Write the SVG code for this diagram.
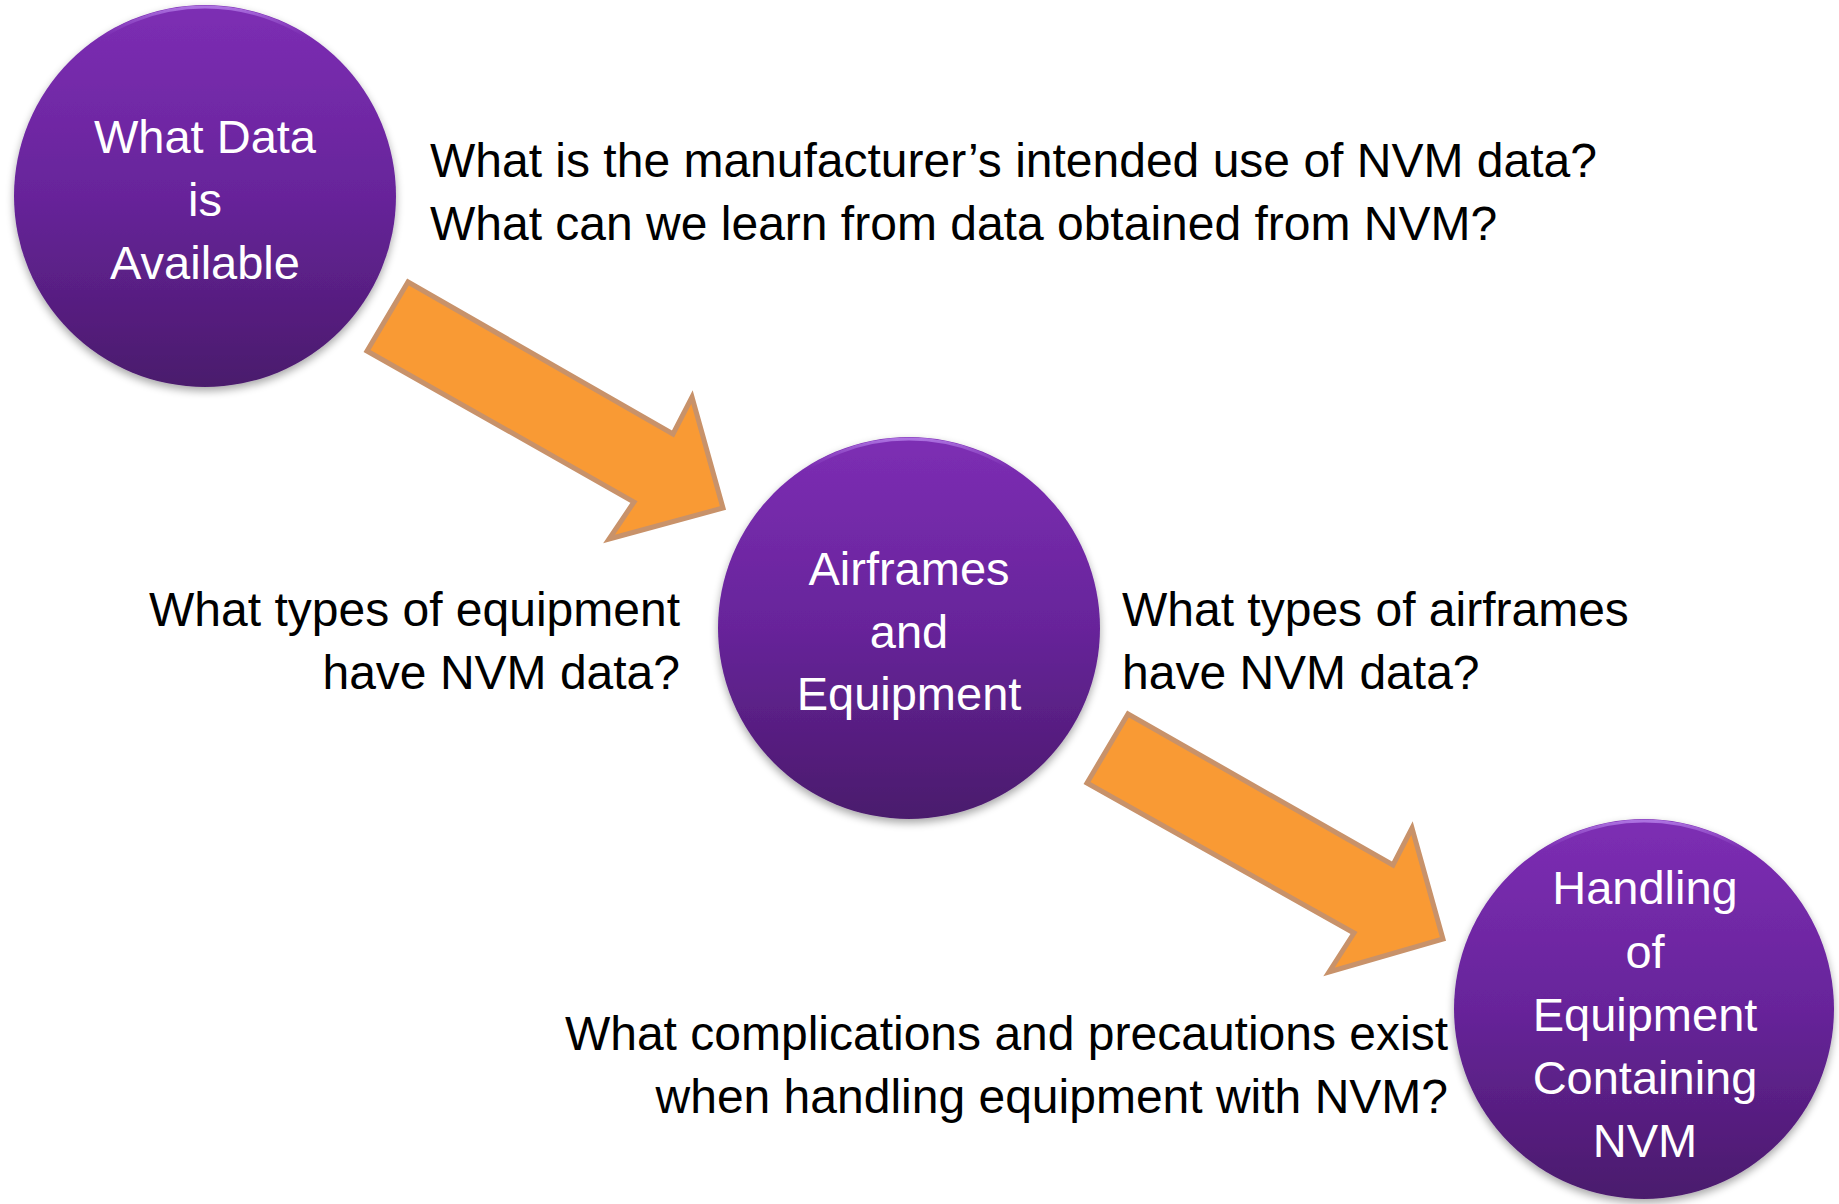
<svg xmlns="http://www.w3.org/2000/svg" width="1839" height="1204" viewBox="0 0 1839 1204">
<defs>
<linearGradient id="purp" x1="0" y1="0" x2="0" y2="1">
<stop offset="0" stop-color="#7D2EB4"/>
<stop offset="0.5" stop-color="#67249A"/>
<stop offset="1" stop-color="#4A1A6C"/>
</linearGradient>
<linearGradient id="rim" x1="0" y1="0" x2="0" y2="1">
<stop offset="0" stop-color="#B27AE6" stop-opacity="0.9"/>
<stop offset="0.08" stop-color="#9A55D0" stop-opacity="0"/>
<stop offset="1" stop-color="#9A55D0" stop-opacity="0"/>
</linearGradient>
<filter id="sh" x="-20%" y="-20%" width="140%" height="150%">
<feGaussianBlur in="SourceAlpha" stdDeviation="4"/>
<feOffset dy="4" result="b"/>
<feComponentTransfer><feFuncA type="linear" slope="0.35"/></feComponentTransfer>
<feMerge><feMergeNode/><feMergeNode in="SourceGraphic"/></feMerge>
</filter>
</defs>
<style>
.node circle.body{fill:url(#purp);filter:url(#sh)}
.node circle.hl{fill:none;stroke:url(#rim);stroke-width:3}
.ntxt{font-family:"Liberation Sans",Arial,sans-serif;font-size:47px;fill:#FFFFFF;text-anchor:middle}
.q{font-family:"Liberation Sans",Arial,sans-serif;font-size:48px;fill:#000000}
.arrow{fill:#F99A34;stroke:#C8926A;stroke-width:5;stroke-linejoin:miter}
</style>
<rect width="1839" height="1204" fill="#FFFFFF"/>

<g id="connectors">
<polygon class="arrow" points="408,282 673,434 692,397 723,508 609,539 634,502 367,351"/>
<polygon class="arrow" points="1128,714 1393,865 1412,828 1443,939 1329,972 1354,933 1087,783"/>
</g>

<g id="node-what-data" class="node">
<circle class="body" cx="205" cy="196" r="191"/>
<circle class="hl" cx="205" cy="196" r="189"/>
<text class="ntxt" x="205" y="153">What Data</text>
<text class="ntxt" x="205" y="216">is</text>
<text class="ntxt" x="205" y="279">Available</text>
</g>

<g id="node-airframes" class="node">
<circle class="body" cx="909" cy="628" r="191"/>
<circle class="hl" cx="909" cy="628" r="189"/>
<text class="ntxt" x="909" y="585">Airframes</text>
<text class="ntxt" x="909" y="648">and</text>
<text class="ntxt" x="909" y="710">Equipment</text>
</g>

<g id="node-handling" class="node">
<circle class="body" cx="1644" cy="1009" r="190"/>
<circle class="hl" cx="1644" cy="1009" r="188"/>
<text class="ntxt" x="1645" y="904">Handling</text>
<text class="ntxt" x="1645" y="968">of</text>
<text class="ntxt" x="1645" y="1031">Equipment</text>
<text class="ntxt" x="1645" y="1094">Containing</text>
<text class="ntxt" x="1645" y="1157">NVM</text>
</g>

<g id="questions">
<text class="q" x="430" y="177">What is the manufacturer’s intended use of NVM data?</text>
<text class="q" x="430" y="240">What can we learn from data obtained from NVM?</text>
<text class="q" x="680" y="626" text-anchor="end">What types of equipment</text>
<text class="q" x="680" y="689" text-anchor="end">have NVM data?</text>
<text class="q" x="1122" y="626">What types of airframes</text>
<text class="q" x="1122" y="689">have NVM data?</text>
<text class="q" x="1448" y="1050" text-anchor="end">What complications and precautions exist</text>
<text class="q" x="1448" y="1113" text-anchor="end">when handling equipment with NVM?</text>
</g>
</svg>
